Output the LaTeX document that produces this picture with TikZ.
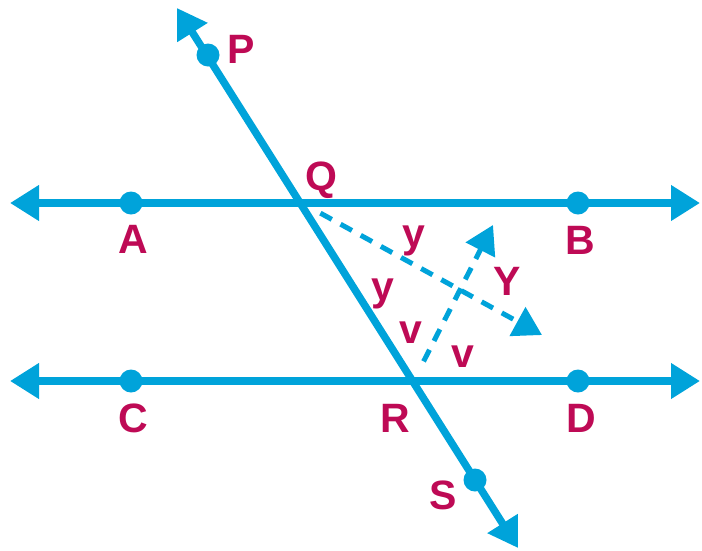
\documentclass[tikz,border=0pt]{standalone}
\usepackage{fontspec}
\setmainfont{Liberation Sans}
\usetikzlibrary{arrows.meta}
\definecolor{lineblue}{RGB}{0,163,218}
\definecolor{labelred}{RGB}{190,10,85}
\tikzset{
  mainline/.style={draw=lineblue, line width=7.5pt, {Triangle[length=29pt,width=34pt]}-{Triangle[length=29pt,width=34pt]}},
  rayline/.style={draw=lineblue, line width=5pt, dash pattern=on 13pt off 10pt, -{Triangle[length=28pt,width=32pt]}},
  ptdot/.style={fill=lineblue},
  lbl/.style={text=labelred, font=\fontsize{41}{48}\selectfont\bfseries, anchor=base, inner sep=0pt}
}
\begin{document}
\begin{tikzpicture}[x=1pt,y=-1pt]
\useasboundingbox (0,0) rectangle (702,550);
% points
\coordinate (ABl) at (10,203);
\coordinate (ABr) at (700,203);
\coordinate (CDl) at (10,381);
\coordinate (CDr) at (700,381);
\coordinate (Ttop) at (177,8);
\coordinate (Tbot) at (518,548);
\coordinate (Q) at (302,203);
\coordinate (R) at (413.6,381);
\coordinate (P) at (208,55);
\coordinate (S) at (475,480);
\coordinate (A) at (131,203);
\coordinate (B) at (578,203);
\coordinate (C) at (131,381);
\coordinate (D) at (578,381);
\coordinate (QY) at (542,335);
\coordinate (RY) at (493,225);
% lines
\draw[mainline] (ABl) -- (ABr);
\draw[mainline] (CDl) -- (CDr);
\draw[mainline] (Ttop) -- (Tbot);
\draw[rayline, shorten <=21pt] (Q) -- (QY);
\draw[rayline, shorten <=22pt] (R) -- (RY);
% dots
\foreach \p in {P,S,A,B,C,D} \fill[ptdot] (\p) circle (11.5pt);
% labels
\node[lbl] (lP) at (241,63) {P};
\node[lbl] (lQ) at (321,190) {Q};
\node[lbl] (lA) at (133,253) {A};
\node[lbl] (lB) at (580,254) {B};
\node[lbl] (lC) at (133,432) {C};
\node[lbl] (lD) at (581,432) {D};
\node[lbl] (lR) at (395,432) {R};
\node[lbl] (lS) at (443,509) {S};
\node[lbl] (ly1) at (414,247) {y};
\node[lbl] (ly2) at (383,300) {y};
\node[lbl] (lv1) at (411,343) {v};
\node[lbl] (lv2) at (463,367) {v};
\node[lbl] (lY) at (507,295) {Y};
\end{tikzpicture}
\end{document}
